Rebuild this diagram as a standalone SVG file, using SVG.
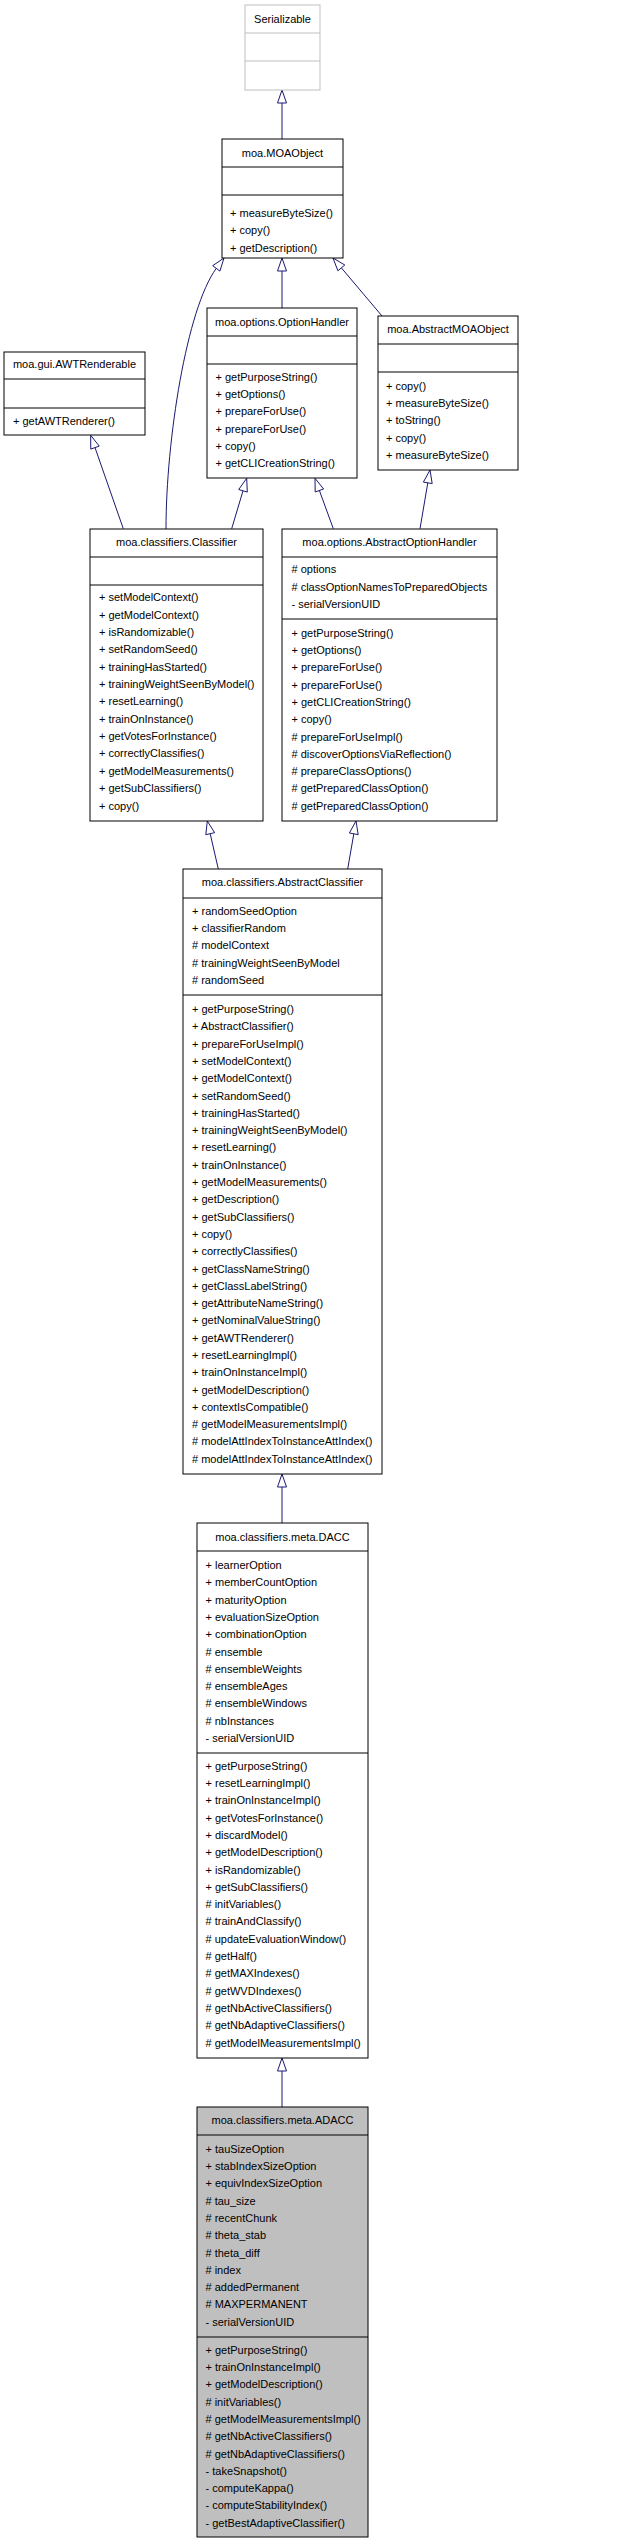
<svg xmlns="http://www.w3.org/2000/svg" width="624" height="2544" viewBox="0 0 624 2544">
<style>
text{font-family:"Liberation Sans",Arial,Helvetica,sans-serif;font-size:11px;fill:#000}
.t{text-anchor:middle}
.box{fill:#fff;stroke:#000;stroke-width:1}
.ext{fill:#fff;stroke:#bfbfbf;stroke-width:1}
.cur{fill:#bfbfbf;stroke:#000;stroke-width:1}
.sep{stroke:#000;stroke-width:1}
.sepx{stroke:#bfbfbf;stroke-width:1}
.edge{fill:none;stroke:#191970;stroke-width:1}
.head{fill:#fff;stroke:#191970;stroke-width:1}
</style>
<rect width="624" height="2544" fill="#fff"/>
<g id="connectors">
<path class="edge" d="M282,139 L282,103"/>
<polygon class="head" points="282,90 277.5,103 286.5,103"/>
<path class="edge" d="M282,308 L282,271"/>
<polygon class="head" points="282,258 277.5,271 286.5,271"/>
<path class="edge" d="M382,316 L341.4,267.9"/>
<polygon class="head" points="333,258 337.9,270.8 344.8,265"/>
<path class="edge" d="M166,529 C166,440 186.8,308.4 216.3,268.4"/>
<polygon class="head" points="224,258 212.7,265.7 219.9,271.1"/>
<path class="edge" d="M123.3,528.7 L95,447.6"/>
<polygon class="head" points="90.7,435.3 90.75,449.1 99.25,446.1"/>
<path class="edge" d="M231.7,528.7 L243,490.8"/>
<polygon class="head" points="246.7,478.3 238.7,489.5 247.3,492.1"/>
<path class="edge" d="M333.3,528.7 L319.4,490.5"/>
<polygon class="head" points="315,478.3 315.2,492 323.6,489"/>
<path class="edge" d="M420,528.7 L427.8,482.8"/>
<polygon class="head" points="430,470 423.4,482.1 432.2,483.6"/>
<path class="edge" d="M218.3,869 L210.2,833.7"/>
<polygon class="head" points="207.3,821 205.8,834.7 214.6,832.7"/>
<path class="edge" d="M347.7,869 L353.8,833.8"/>
<polygon class="head" points="356,821 349.4,833 358.2,834.6"/>
<path class="edge" d="M282,1523 L282,1487"/>
<polygon class="head" points="282,1474 277.5,1487 286.5,1487"/>
<path class="edge" d="M282,2107 L282,2071"/>
<polygon class="head" points="282,2058 277.5,2071 286.5,2071"/>
</g>
<g id="Serializable">
<rect class="ext" x="245" y="5" width="75" height="85"/>
<line class="sepx" x1="245" y1="33" x2="320" y2="33"/>
<line class="sepx" x1="245" y1="61" x2="320" y2="61"/>
<text class="t" x="282.5" y="22.5">Serializable</text>
</g>
<g id="MOAObject">
<rect class="box" x="222" y="139" width="121" height="119"/>
<line class="sep" x1="222" y1="167" x2="343" y2="167"/>
<line class="sep" x1="222" y1="195" x2="343" y2="195"/>
<text class="t" x="282.5" y="157">moa.MOAObject</text>
<text x="230" y="217">+ measureByteSize()<tspan x="230" dy="17.3">+ copy()</tspan><tspan x="230" dy="17.3">+ getDescription()</tspan></text>
</g>
<g id="OptionHandler">
<rect class="box" x="207" y="308" width="150" height="170"/>
<line class="sep" x1="207" y1="336" x2="357" y2="336"/>
<line class="sep" x1="207" y1="364" x2="357" y2="364"/>
<text class="t" x="282" y="326">moa.options.OptionHandler</text>
<text x="215.5" y="380.7">+ getPurposeString()<tspan x="215.5" dy="17.3">+ getOptions()</tspan><tspan x="215.5" dy="17.3">+ prepareForUse()</tspan><tspan x="215.5" dy="17.3">+ prepareForUse()</tspan><tspan x="215.5" dy="17.3">+ copy()</tspan><tspan x="215.5" dy="17.3">+ getCLICreationString()</tspan></text>
</g>
<g id="AbstractMOAObject">
<rect class="box" x="378" y="316" width="140" height="154"/>
<line class="sep" x1="378" y1="344" x2="518" y2="344"/>
<line class="sep" x1="378" y1="372" x2="518" y2="372"/>
<text class="t" x="448" y="333.3">moa.AbstractMOAObject</text>
<text x="386" y="389.7">+ copy()<tspan x="386" dy="17.3">+ measureByteSize()</tspan><tspan x="386" dy="17.3">+ toString()</tspan><tspan x="386" dy="17.3">+ copy()</tspan><tspan x="386" dy="17.3">+ measureByteSize()</tspan></text>
</g>
<g id="AWTRenderable">
<rect class="box" x="4" y="352" width="141" height="83"/>
<line class="sep" x1="4" y1="379" x2="145" y2="379"/>
<line class="sep" x1="4" y1="408" x2="145" y2="408"/>
<text class="t" x="74.5" y="368.3">moa.gui.AWTRenderable</text>
<text x="13" y="425">+ getAWTRenderer()</text>
</g>
<g id="Classifier">
<rect class="box" x="90" y="529" width="173" height="292"/>
<line class="sep" x1="90" y1="557" x2="263" y2="557"/>
<line class="sep" x1="90" y1="585" x2="263" y2="585"/>
<text class="t" x="176.5" y="545.7">moa.classifiers.Classifier</text>
<text x="99" y="601.3">+ setModelContext()<tspan x="99" dy="17.35">+ getModelContext()</tspan><tspan x="99" dy="17.35">+ isRandomizable()</tspan><tspan x="99" dy="17.35">+ setRandomSeed()</tspan><tspan x="99" dy="17.35">+ trainingHasStarted()</tspan><tspan x="99" dy="17.35">+ trainingWeightSeenByModel()</tspan><tspan x="99" dy="17.35">+ resetLearning()</tspan><tspan x="99" dy="17.35">+ trainOnInstance()</tspan><tspan x="99" dy="17.35">+ getVotesForInstance()</tspan><tspan x="99" dy="17.35">+ correctlyClassifies()</tspan><tspan x="99" dy="17.35">+ getModelMeasurements()</tspan><tspan x="99" dy="17.35">+ getSubClassifiers()</tspan><tspan x="99" dy="17.35">+ copy()</tspan></text>
</g>
<g id="AbstractOptionHandler">
<rect class="box" x="282" y="529" width="215" height="292"/>
<line class="sep" x1="282" y1="557" x2="497" y2="557"/>
<line class="sep" x1="282" y1="619" x2="497" y2="619"/>
<text class="t" x="389.5" y="545.7">moa.options.AbstractOptionHandler</text>
<text x="291.5" y="573.3"># options<tspan x="291.5" dy="17.3"># classOptionNamesToPreparedObjects</tspan><tspan x="291.5" dy="17.3">- serialVersionUID</tspan></text>
<text x="291.5" y="636.7">+ getPurposeString()<tspan x="291.5" dy="17.3">+ getOptions()</tspan><tspan x="291.5" dy="17.3">+ prepareForUse()</tspan><tspan x="291.5" dy="17.3">+ prepareForUse()</tspan><tspan x="291.5" dy="17.3">+ getCLICreationString()</tspan><tspan x="291.5" dy="17.3">+ copy()</tspan><tspan x="291.5" dy="17.3"># prepareForUseImpl()</tspan><tspan x="291.5" dy="17.3"># discoverOptionsViaReflection()</tspan><tspan x="291.5" dy="17.3"># prepareClassOptions()</tspan><tspan x="291.5" dy="17.3"># getPreparedClassOption()</tspan><tspan x="291.5" dy="17.3"># getPreparedClassOption()</tspan></text>
</g>
<g id="AbstractClassifier">
<rect class="box" x="183" y="869" width="199" height="605"/>
<line class="sep" x1="183" y1="898" x2="382" y2="898"/>
<line class="sep" x1="183" y1="995" x2="382" y2="995"/>
<text class="t" x="282.5" y="886.3">moa.classifiers.AbstractClassifier</text>
<text x="192" y="914.7">+ randomSeedOption<tspan x="192" dy="17.3">+ classifierRandom</tspan><tspan x="192" dy="17.3"># modelContext</tspan><tspan x="192" dy="17.3"># trainingWeightSeenByModel</tspan><tspan x="192" dy="17.3"># randomSeed</tspan></text>
<text x="192" y="1013">+ getPurposeString()<tspan x="192" dy="17.3">+ AbstractClassifier()</tspan><tspan x="192" dy="17.3">+ prepareForUseImpl()</tspan><tspan x="192" dy="17.3">+ setModelContext()</tspan><tspan x="192" dy="17.3">+ getModelContext()</tspan><tspan x="192" dy="17.3">+ setRandomSeed()</tspan><tspan x="192" dy="17.3">+ trainingHasStarted()</tspan><tspan x="192" dy="17.3">+ trainingWeightSeenByModel()</tspan><tspan x="192" dy="17.3">+ resetLearning()</tspan><tspan x="192" dy="17.3">+ trainOnInstance()</tspan><tspan x="192" dy="17.3">+ getModelMeasurements()</tspan><tspan x="192" dy="17.3">+ getDescription()</tspan><tspan x="192" dy="17.3">+ getSubClassifiers()</tspan><tspan x="192" dy="17.3">+ copy()</tspan><tspan x="192" dy="17.3">+ correctlyClassifies()</tspan><tspan x="192" dy="17.3">+ getClassNameString()</tspan><tspan x="192" dy="17.3">+ getClassLabelString()</tspan><tspan x="192" dy="17.3">+ getAttributeNameString()</tspan><tspan x="192" dy="17.3">+ getNominalValueString()</tspan><tspan x="192" dy="17.3">+ getAWTRenderer()</tspan><tspan x="192" dy="17.3">+ resetLearningImpl()</tspan><tspan x="192" dy="17.3">+ trainOnInstanceImpl()</tspan><tspan x="192" dy="17.3">+ getModelDescription()</tspan><tspan x="192" dy="17.3">+ contextIsCompatible()</tspan><tspan x="192" dy="17.3"># getModelMeasurementsImpl()</tspan><tspan x="192" dy="17.3"># modelAttIndexToInstanceAttIndex()</tspan><tspan x="192" dy="17.3"># modelAttIndexToInstanceAttIndex()</tspan></text>
</g>
<g id="DACC">
<rect class="box" x="197" y="1523" width="171" height="535"/>
<line class="sep" x1="197" y1="1551" x2="368" y2="1551"/>
<line class="sep" x1="197" y1="1753" x2="368" y2="1753"/>
<text class="t" x="282.5" y="1540.7">moa.classifiers.meta.DACC</text>
<text x="205.5" y="1569">+ learnerOption<tspan x="205.5" dy="17.3">+ memberCountOption</tspan><tspan x="205.5" dy="17.3">+ maturityOption</tspan><tspan x="205.5" dy="17.3">+ evaluationSizeOption</tspan><tspan x="205.5" dy="17.3">+ combinationOption</tspan><tspan x="205.5" dy="17.3"># ensemble</tspan><tspan x="205.5" dy="17.3"># ensembleWeights</tspan><tspan x="205.5" dy="17.3"># ensembleAges</tspan><tspan x="205.5" dy="17.3"># ensembleWindows</tspan><tspan x="205.5" dy="17.3"># nbInstances</tspan><tspan x="205.5" dy="17.3">- serialVersionUID</tspan></text>
<text x="205.5" y="1769.7">+ getPurposeString()<tspan x="205.5" dy="17.3">+ resetLearningImpl()</tspan><tspan x="205.5" dy="17.3">+ trainOnInstanceImpl()</tspan><tspan x="205.5" dy="17.3">+ getVotesForInstance()</tspan><tspan x="205.5" dy="17.3">+ discardModel()</tspan><tspan x="205.5" dy="17.3">+ getModelDescription()</tspan><tspan x="205.5" dy="17.3">+ isRandomizable()</tspan><tspan x="205.5" dy="17.3">+ getSubClassifiers()</tspan><tspan x="205.5" dy="17.3"># initVariables()</tspan><tspan x="205.5" dy="17.3"># trainAndClassify()</tspan><tspan x="205.5" dy="17.3"># updateEvaluationWindow()</tspan><tspan x="205.5" dy="17.3"># getHalf()</tspan><tspan x="205.5" dy="17.3"># getMAXIndexes()</tspan><tspan x="205.5" dy="17.3"># getWVDIndexes()</tspan><tspan x="205.5" dy="17.3"># getNbActiveClassifiers()</tspan><tspan x="205.5" dy="17.3"># getNbAdaptiveClassifiers()</tspan><tspan x="205.5" dy="17.3"># getModelMeasurementsImpl()</tspan></text>
</g>
<g id="ADACC">
<rect class="cur" x="197" y="2107" width="171" height="430"/>
<line class="sep" x1="197" y1="2135" x2="368" y2="2135"/>
<line class="sep" x1="197" y1="2337" x2="368" y2="2337"/>
<text class="t" x="282.5" y="2124">moa.classifiers.meta.ADACC</text>
<text x="205.5" y="2152.7">+ tauSizeOption<tspan x="205.5" dy="17.3">+ stabIndexSizeOption</tspan><tspan x="205.5" dy="17.3">+ equivIndexSizeOption</tspan><tspan x="205.5" dy="17.3"># tau_size</tspan><tspan x="205.5" dy="17.3"># recentChunk</tspan><tspan x="205.5" dy="17.3"># theta_stab</tspan><tspan x="205.5" dy="17.3"># theta_diff</tspan><tspan x="205.5" dy="17.3"># index</tspan><tspan x="205.5" dy="17.3"># addedPermanent</tspan><tspan x="205.5" dy="17.3"># MAXPERMANENT</tspan><tspan x="205.5" dy="17.3">- serialVersionUID</tspan></text>
<text x="205.5" y="2353.7">+ getPurposeString()<tspan x="205.5" dy="17.3">+ trainOnInstanceImpl()</tspan><tspan x="205.5" dy="17.3">+ getModelDescription()</tspan><tspan x="205.5" dy="17.3"># initVariables()</tspan><tspan x="205.5" dy="17.3"># getModelMeasurementsImpl()</tspan><tspan x="205.5" dy="17.3"># getNbActiveClassifiers()</tspan><tspan x="205.5" dy="17.3"># getNbAdaptiveClassifiers()</tspan><tspan x="205.5" dy="17.3">- takeSnapshot()</tspan><tspan x="205.5" dy="17.3">- computeKappa()</tspan><tspan x="205.5" dy="17.3">- computeStabilityIndex()</tspan><tspan x="205.5" dy="17.3">- getBestAdaptiveClassifier()</tspan></text>
</g>
</svg>
